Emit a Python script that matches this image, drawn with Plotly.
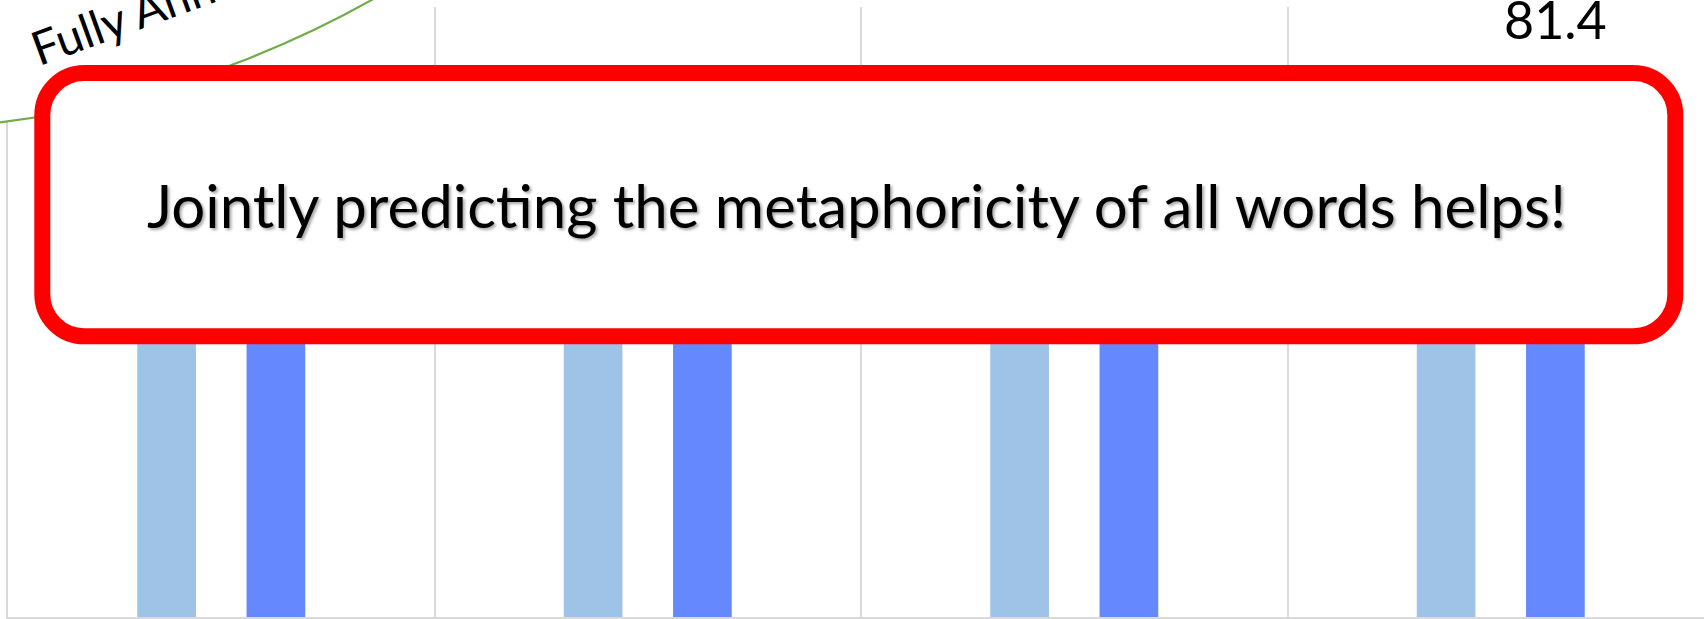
import plotly.graph_objects as go

# Per-dataset F1 scores: word-by-word classifier vs. joint sequence model
datasets = ["VUA Verbs", "VUA All POS", "TOEFL Verbs", "TOEFL All POS"]
single_word = [66.9, 61.2, 68.4, 71.6]
joint = [70.3, 64.5, 71.2, 81.4]

headline = "Jointly predicting the metaphoricity of all words helps!"
side_note = "Fully Annotated"

Y_MAX = 90
LABEL_LIFT = 2.0                    # gap between a bar top and its value label (data units)
W, H = 1704, 619
M_L, M_R, M_T, M_B = 8, 0, 7, 2
PLOT_W = W - M_L - M_R
PLOT_H = H - M_T - M_B
CAT_PX = 426.5                      # width of one category band in pixels
X_RANGE = [-0.5, -0.5 + PLOT_W / CAT_PX]
BARGAP = 0.4875
BARGROUPGAP = 0.463
OFFSET = (1 - BARGAP) / 4           # centre offset of each bar inside its group

LIGHT = "#9FC3E7"
DARK = "#6688FF"
GRID = "#D9D9D9"
FONT = "Lato"


def px_x(px):
    return (px - M_L) / PLOT_W


def px_y(py):
    return (H - M_B - py) / PLOT_H


fig = go.Figure()
fig.add_trace(go.Bar(name="Single-word classification", x=datasets, y=single_word,
                     marker=dict(color=LIGHT, line=dict(width=0))))
fig.add_trace(go.Bar(name="Joint sequence labelling", x=datasets, y=joint,
                     marker=dict(color=DARK, line=dict(width=0))))

# value labels above every bar, on a numeric twin axis aligned with the categories
label_x, label_y, label_t = [], [], []
for i, (a, b) in enumerate(zip(single_word, joint)):
    for off, v in ((-OFFSET, a), (OFFSET, b)):
        label_x.append(i + off)
        label_y.append(v + LABEL_LIFT)
        label_t.append(f"{v:.1f}")
fig.add_trace(go.Scatter(x=label_x, y=label_y, text=label_t, xaxis="x2", yaxis="y",
                         mode="text", textposition="top center", cliponaxis=False,
                         textfont=dict(family=FONT, size=52, color="black"),
                         hoverinfo="skip", showlegend=False))

# rounded call-out box
x0, x1 = 42.3, 1675.3
y0, y1 = 73.0, 336.3
r = 42.0
k = 0.5523 * r


def P(x, y):
    return f"{px_x(x):.6f},{px_y(y):.6f}"


box_path = (
    f"M {P(x0 + r, y0)} L {P(x1 - r, y0)} "
    f"C {P(x1 - r + k, y0)} {P(x1, y0 + r - k)} {P(x1, y0 + r)} "
    f"L {P(x1, y1 - r)} "
    f"C {P(x1, y1 - r + k)} {P(x1 - r + k, y1)} {P(x1 - r, y1)} "
    f"L {P(x0 + r, y1)} "
    f"C {P(x0 + r - k, y1)} {P(x0, y1 - r + k)} {P(x0, y1 - r)} "
    f"L {P(x0, y0 + r)} "
    f"C {P(x0, y0 + r - k)} {P(x0 + r - k, y0)} {P(x0 + r, y0)} Z"
)

# large green-outlined ellipse in the upper-left corner
cx, cy, cr = -126.0, -886.0, 1016.0
shapes = [
    dict(type="circle", xref="paper", yref="paper", layer="above",
         x0=px_x(cx - cr), x1=px_x(cx + cr), y0=px_y(cy + cr), y1=px_y(cy - cr),
         line=dict(color="#70AD47", width=2.2), fillcolor="white"),
    dict(type="path", xref="paper", yref="paper", layer="above", path=box_path,
         line=dict(color="#FF0000", width=16), fillcolor="white"),
]

annotations = [
    dict(x=px_x(856), y=px_y(205), xref="paper", yref="paper",
         text=headline, showarrow=False, xanchor="center", yanchor="middle",
         font=dict(family=FONT, size=60, color="black",
                   shadow="2px 2px 3px rgba(0,0,0,0.35)")),
    dict(x=px_x(185), y=px_y(-6), xref="paper", yref="paper",
         text=side_note, showarrow=False, textangle=-20,
         xanchor="center", yanchor="middle",
         font=dict(family=FONT, size=47, color="black")),
]

fig.update_layout(
    width=W, height=H,
    margin=dict(l=M_L, r=M_R, t=M_T, b=M_B, pad=0),
    paper_bgcolor="white", plot_bgcolor="white",
    barmode="group", bargap=BARGAP, bargroupgap=BARGROUPGAP,
    showlegend=False,
    shapes=shapes, annotations=annotations,
    xaxis=dict(type="category", range=X_RANGE,
               tickson="boundaries", showgrid=True, gridcolor=GRID, gridwidth=2.3,
               showline=True, linecolor=GRID, linewidth=2, ticks="",
               showticklabels=False, zeroline=False),
    xaxis2=dict(overlaying="x", range=X_RANGE, visible=False, showgrid=False),
    yaxis=dict(range=[0, Y_MAX], showgrid=False, zeroline=False,
               showline=True, linecolor=GRID, linewidth=2,
               showticklabels=False, ticks=""),
)

fig.write_html("out.html")
